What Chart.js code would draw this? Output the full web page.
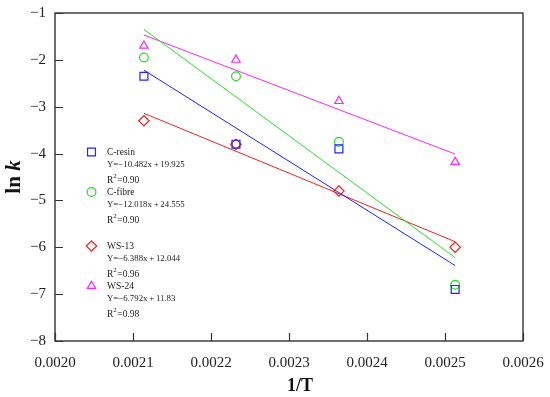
<!DOCTYPE html>
<html><head><meta charset="utf-8">
<script src="https://cdn.jsdelivr.net/npm/chart.js@4"></script>
<style>html,body{margin:0;padding:0;background:#fff;} #wrap{width:550px;height:397px;position:relative;}</style>
</head><body><div id="wrap"><canvas id="c" width="550" height="397"></canvas></div>
<script>
// ---- data ----
const invT = [0.002114, 0.002232, 0.002364, 0.002513];
const cResin = [-2.35, -3.80, -3.90, -6.90];
const cFibre = [-1.95, -2.35, -3.75, -6.80];
const ws13   = [-3.30, -3.80, -4.80, -6.00];
const ws24   = [-1.70, -2.00, -2.88, -4.18];

const fitX = [0.002114, 0.002513];
const cResinFit = [-2.22, -6.39];
const cFibreFit = [-1.35, -6.22];
const ws13Fit   = [-3.14, -5.88];
const ws24Fit   = [-1.47, -4.01];

const seriesNames = ['C-resin', 'C-fibre', 'WS-13', 'WS-24'];
const equations = ['Y=\u221210.482x\u2009+\u200919.925', 'Y=\u221212.018x\u2009+\u200924.555', 'Y=\u22126.388x\u2009+\u200912.044', 'Y=\u22126.792x\u2009+\u200911.83'];
const r2Values = ['0.90', '0.90', '0.96', '0.98'];

const xTicks = [0.0020, 0.0021, 0.0022, 0.0023, 0.0024, 0.0025, 0.0026];
const yTicks = [-8, -7, -6, -5, -4, -3, -2, -1];

// ---- styles ----
const colors = ['#2020ff', '#22e022', '#ee2222', '#ff22ff'];
const pStyles = ['rect', 'circle', 'rectRot', 'triangle'];
const pRadius = [5.6, 4.4, 5.2, 4.8];
const FONT = '"Liberation Serif", "Times New Roman", serif';

const pts = (xs, ys) => xs.map((x, i) => ({x: x, y: ys[i]}));
const pointSets = [cResin, cFibre, ws13, ws24];
const fitSets = [cResinFit, cFibreFit, ws13Fit, ws24Fit];

const datasets = [];
pointSets.forEach((ys, i) => datasets.push({
  label: seriesNames[i], data: pts(invT, ys), showLine: false,
  pointStyle: pStyles[i], pointRadius: pRadius[i], pointBorderColor: colors[i],
  pointBackgroundColor: 'rgba(0,0,0,0)', pointBorderWidth: 1.2
}));
fitSets.forEach((ys, i) => datasets.push({
  label: seriesNames[i] + ' fit', data: pts(fitX, ys), showLine: true,
  borderColor: colors[i], borderWidth: 1, pointRadius: 0
}));

const decor = {
  id: 'decor',
  afterDraw(chart) {
    const ctx = chart.ctx, a = chart.chartArea;
    const xs = chart.scales.x, ys = chart.scales.y;
    ctx.save();
    // frame
    ctx.strokeStyle = '#333'; ctx.lineWidth = 1.4;
    ctx.strokeRect(a.left, a.top, a.right - a.left, a.bottom - a.top);
    // inward ticks
    ctx.lineWidth = 1.2;
    ctx.beginPath();
    xTicks.forEach(v => { const px = Math.round(xs.getPixelForValue(v)) + 0.5; ctx.moveTo(px, a.bottom); ctx.lineTo(px, a.bottom - 8); });
    yTicks.forEach(v => { const py = Math.round(ys.getPixelForValue(v)) + 0.5; ctx.moveTo(a.left, py); ctx.lineTo(a.left + 8, py); });
    ctx.stroke();
    // axis titles
    ctx.fillStyle = '#111';
    ctx.textBaseline = 'middle'; ctx.textAlign = 'center';
    ctx.font = 'bold 18px ' + FONT;
    ctx.fillText('1/T', 300, 386);
    ctx.save();
    ctx.translate(15, 177); ctx.rotate(-Math.PI / 2);
    ctx.font = 'bold 21px ' + FONT;
    const p1 = 'ln ';
    const w1 = ctx.measureText(p1).width;
    ctx.font = 'italic bold 21px ' + FONT;
    const w2 = ctx.measureText('k').width;
    ctx.textAlign = 'left';
    ctx.font = 'bold 21px ' + FONT;
    ctx.fillText(p1, -(w1 + w2) / 2, 0);
    ctx.font = 'italic bold 21px ' + FONT;
    ctx.fillText('k', -(w1 + w2) / 2 + w1, 0);
    ctx.restore();
    // legend
    const nameY = [152, 192, 246, 286];
    const mx = 91.5, tx = 107;
    nameY.forEach((y, i) => {
      ctx.strokeStyle = colors[i]; ctx.fillStyle = 'rgba(0,0,0,0)'; ctx.lineWidth = 1.2;
      Chart.helpers.drawPoint(ctx, {pointStyle: pStyles[i], radius: pRadius[i], rotation: 0, borderWidth: 1.2}, mx, y);
      ctx.fillStyle = '#222'; ctx.textAlign = 'left'; ctx.textBaseline = 'middle';
      ctx.font = '9.5px ' + FONT;
      ctx.fillText(seriesNames[i], tx, y);
      ctx.font = '8.8px ' + FONT;
      ctx.fillText(equations[i], tx, y + 13);
      ctx.font = '9.5px ' + FONT;
      const ry = y + 28.5;
      ctx.fillText('R', tx, ry);
      const wr = ctx.measureText('R').width;
      ctx.font = '7px ' + FONT;
      ctx.fillText('2', tx + wr, ry - 4);
      const w2s = ctx.measureText('2').width;
      ctx.font = '9.5px ' + FONT;
      ctx.fillText('=' + r2Values[i], tx + wr + w2s + 0.5, ry);
    });
    ctx.restore();
  }
};

new Chart(document.getElementById('c'), {
  type: 'scatter',
  data: {datasets: datasets},
  options: {
    responsive: false, devicePixelRatio: 1, animation: false,
    layout: {padding: {top: 13, right: 27, left: 0, bottom: 0}},
    plugins: {legend: {display: false}, tooltip: {enabled: false}},
    scales: {
      x: {
        type: 'linear', min: 0.0020, max: 0.0026,
        afterBuildTicks: s => { s.ticks = xTicks.map(v => ({value: v})); },
        afterFit: s => { s.height = 56; s.paddingLeft = 0; s.paddingRight = 0; },
        grid: {display: false, drawTicks: false}, border: {display: false},
        ticks: {callback: v => Number(v).toFixed(4), font: {family: FONT, size: 15}, color: '#222', padding: 13, maxRotation: 0, autoSkip: false}
      },
      y: {
        type: 'linear', min: -8, max: -1,
        afterBuildTicks: s => { s.ticks = yTicks.map(v => ({value: v})); },
        afterFit: s => { s.width = 55; s.paddingTop = 0; s.paddingBottom = 0; },
        grid: {display: false, drawTicks: false}, border: {display: false},
        ticks: {callback: v => (v < 0 ? '\u2212' + Math.abs(v) : String(v)), font: {family: FONT, size: 15}, color: '#222', padding: 9, autoSkip: false}
      }
    }
  },
  plugins: [decor]
});
</script></body></html>
